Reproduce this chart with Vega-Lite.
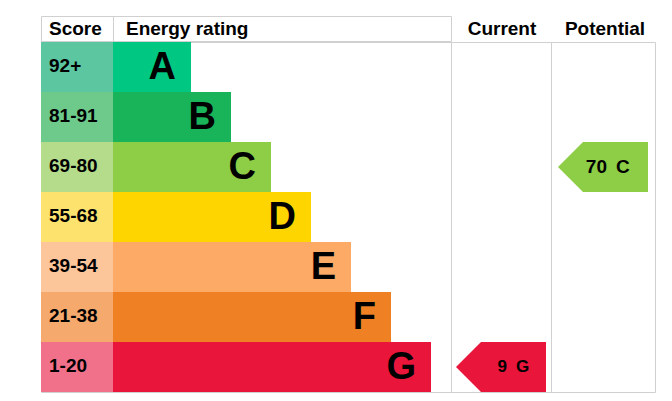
{
  "$schema": "https://vega.github.io/schema/vega-lite/v6.json",
  "description": "Energy performance rating: score bands, current and potential rating",
  "padding": {"left": 40, "top": 15, "right": 16, "bottom": 9},
  "config": {
    "view": {"stroke": "#d0d0d0", "strokeWidth": 1},
    "concat": {"spacing": 0},
    "text": {"font": "Liberation Sans", "fontWeight": "bold", "color": "#000000", "baseline": "middle"}
  },
  "datasets": {
    "bands": [
      {"band": "A", "score": "92+", "n": 1},
      {"band": "B", "score": "81-91", "n": 2},
      {"band": "C", "score": "69-80", "n": 3},
      {"band": "D", "score": "55-68", "n": 4},
      {"band": "E", "score": "39-54", "n": 5},
      {"band": "F", "score": "21-38", "n": 6},
      {"band": "G", "score": "1-20", "n": 7}
    ],
    "current": [{"band": "G", "score": 9}],
    "potential": [{"band": "C", "score": 70}]
  },
  "spacing": -2,
  "vconcat": [
    {
      "spacing": 0,
      "bounds": "flush",
      "hconcat": [
        {
          "width": 72,
          "height": 25,
          "data": {"values": [{"h": "Score"}]},
          "mark": {"type": "text", "align": "left", "dx": 8, "fontSize": 19},
          "encoding": {
            "x": {"datum": 0, "type": "quantitative", "axis": null, "scale": {"domain": [0, 1]}},
            "text": {"field": "h"}
          }
        },
        {
          "width": 338,
          "height": 25,
          "data": {"values": [{"h": "Energy rating"}]},
          "mark": {"type": "text", "align": "left", "dx": 13, "fontSize": 19},
          "encoding": {
            "x": {"datum": 0, "type": "quantitative", "axis": null, "scale": {"domain": [0, 1]}},
            "text": {"field": "h"}
          }
        },
        {
          "width": 100,
          "height": 25,
          "data": {"values": [{"h": "Current"}]},
          "mark": {"type": "text", "align": "center", "dx": 1, "fontSize": 19},
          "encoding": {"text": {"field": "h"}}
        },
        {
          "width": 104,
          "height": 25,
          "data": {"values": [{"h": "Potential"}]},
          "mark": {"type": "text", "align": "center", "dx": 2, "fontSize": 19},
          "encoding": {"text": {"field": "h"}}
        }
      ]
    },
    {
      "spacing": 0,
      "bounds": "flush",
      "resolve": {"scale": {"color": "independent"}},
      "hconcat": [
        {
          "width": 72,
          "height": 350,
          "data": {"name": "bands"},
          "encoding": {
            "y": {"field": "band", "type": "nominal", "axis": null, "sort": null,
              "scale": {"type": "band", "domain": ["A", "B", "C", "D", "E", "F", "G"], "paddingInner": 0, "paddingOuter": 0}}
          },
          "layer": [
            {
              "mark": {"type": "rect"},
              "encoding": {
                "x": {"datum": 0, "type": "quantitative", "axis": null, "scale": {"domain": [0, 1]}},
                "x2": {"datum": 1},
                "color": {"field": "band", "type": "nominal", "legend": null,
                  "scale": {"domain": ["A", "B", "C", "D", "E", "F", "G"],
                    "range": ["#5bc6a0", "#6dca8b", "#b4dc8b", "#fde36e", "#fdc59a", "#f5a96d", "#f07189"]}}
              }
            },
            {
              "mark": {"type": "text", "align": "left", "dx": 8, "dy": -1, "fontSize": 19},
              "encoding": {
                "x": {"datum": 0, "type": "quantitative"},
                "text": {"field": "score"}
              }
            }
          ]
        },
        {
          "width": 338,
          "height": 350,
          "data": {"name": "bands"},
          "encoding": {
            "y": {"field": "band", "type": "nominal", "axis": null, "sort": null,
              "scale": {"type": "band", "domain": ["A", "B", "C", "D", "E", "F", "G"], "paddingInner": 0, "paddingOuter": 0}}
          },
          "layer": [
            {
              "mark": {"type": "rect"},
              "encoding": {
                "x": {"field": "n", "type": "quantitative", "axis": null,
                  "scale": {"domain": [-0.95, 7.5], "nice": false, "zero": false}},
                "x2": {"datum": -0.95},
                "color": {"field": "band", "type": "nominal", "legend": null,
                  "scale": {"domain": ["A", "B", "C", "D", "E", "F", "G"],
                    "range": ["#00c781", "#19b459", "#8dce46", "#ffd500", "#fcaa65", "#ef8023", "#e9153b"]}}
              }
            },
            {
              "mark": {"type": "text", "align": "right", "dx": -15, "dy": 1, "fontSize": 38},
              "encoding": {
                "x": {"field": "n", "type": "quantitative"},
                "text": {"field": "band"}
              }
            }
          ]
        },
        {
          "width": 100,
          "height": 350,
          "data": {"name": "current"},
          "encoding": {
            "y": {"field": "band", "type": "nominal", "axis": null, "sort": null,
              "scale": {"type": "band", "domain": ["A", "B", "C", "D", "E", "F", "G"], "paddingInner": 0, "paddingOuter": 0}}
          },
          "layer": [
            {
              "mark": {"type": "point", "shape": "M-1,0L-0.444,-0.5556L1,-0.5556L1,0.5556L-0.444,0.5556Z",
                "size": 8100, "filled": true, "opacity": 1, "strokeWidth": 0},
              "encoding": {
                "color": {"field": "band", "type": "nominal", "legend": null,
                  "scale": {"domain": ["A", "B", "C", "D", "E", "F", "G"],
                    "range": ["#00c781", "#19b459", "#8dce46", "#ffd500", "#fcaa65", "#ef8023", "#e9153b"]}}
              }
            },
            {
              "mark": {"type": "text", "align": "right", "dx": 6, "fontSize": 17},
              "encoding": {"text": {"field": "score"}}
            },
            {
              "mark": {"type": "text", "align": "left", "dx": 15, "fontSize": 17},
              "encoding": {"text": {"field": "band"}}
            }
          ]
        },
        {
          "width": 104,
          "height": 350,
          "data": {"name": "potential"},
          "encoding": {
            "y": {"field": "band", "type": "nominal", "axis": null, "sort": null,
              "scale": {"type": "band", "domain": ["A", "B", "C", "D", "E", "F", "G"], "paddingInner": 0, "paddingOuter": 0}}
          },
          "layer": [
            {
              "mark": {"type": "point", "shape": "M-1,0L-0.444,-0.5556L1,-0.5556L1,0.5556L-0.444,0.5556Z",
                "size": 8100, "filled": true, "opacity": 1, "strokeWidth": 0},
              "encoding": {
                "color": {"field": "band", "type": "nominal", "legend": null,
                  "scale": {"domain": ["A", "B", "C", "D", "E", "F", "G"],
                    "range": ["#00c781", "#19b459", "#8dce46", "#ffd500", "#fcaa65", "#ef8023", "#e9153b"]}}
              }
            },
            {
              "mark": {"type": "text", "align": "right", "dx": 4, "fontSize": 19},
              "encoding": {"text": {"field": "score"}}
            },
            {
              "mark": {"type": "text", "align": "left", "dx": 13, "fontSize": 19},
              "encoding": {"text": {"field": "band"}}
            }
          ]
        }
      ]
    }
  ]
}
